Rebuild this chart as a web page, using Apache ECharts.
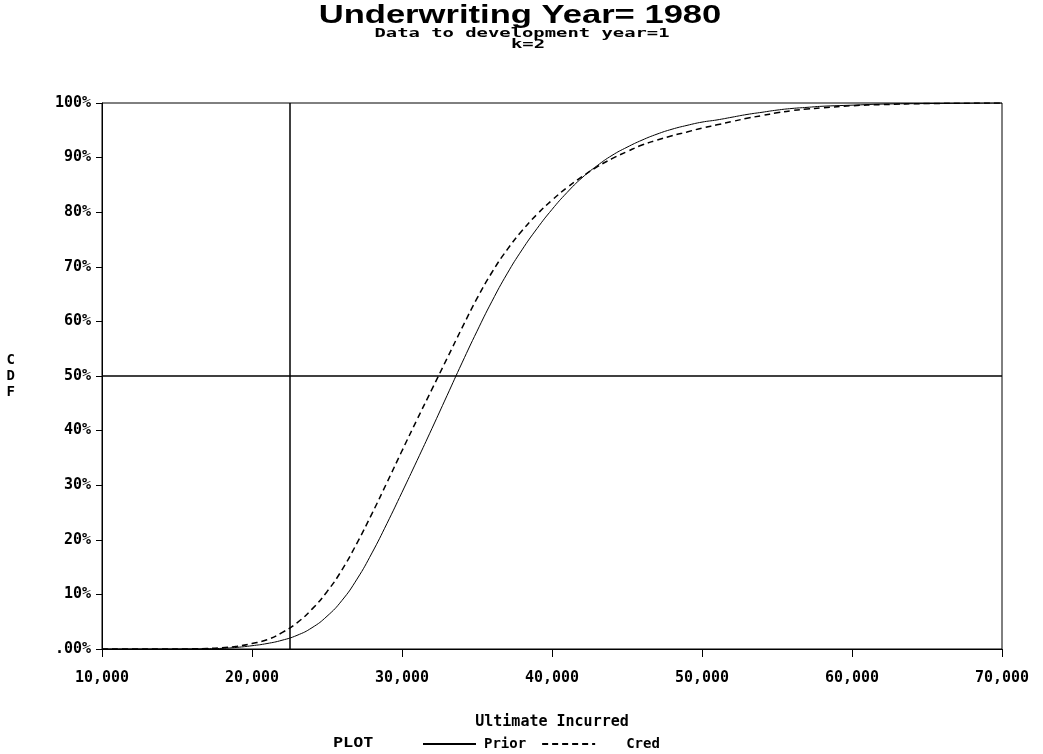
<!DOCTYPE html>
<html><head><meta charset="utf-8">
<script src="https://cdn.jsdelivr.net/npm/echarts@6/dist/echarts.min.js"></script>
<style>html,body{margin:0;padding:0;background:#fff}#c{width:1043px;height:754px}</style>
</head><body><div id="c"></div>
<script>
// Ultimate incurred values (x) at which the CDFs are read
const ultimate = [10000,12000,14000,16000,17000,18000,19000,20000,21000,22000,23000,24000,25000,26000,27000,28000,29000,30000,31000,32000,33000,34000,35000,36000,37000,38000,39000,40000,41000,42000,43000,44000,45000,46000,47000,48000,49000,50000,51000,52000,53000,54000,55000,56000,57000,58000,60000,62000,65000,70000];
// CDF in percent
const prior = [0,0,0,0.02,0.05,0.12,0.3,0.6,1.0,1.6,2.5,3.9,6.0,8.9,12.8,17.6,23.0,28.7,34.5,40.4,46.4,52.4,58.2,63.7,68.7,73.1,77.0,80.5,83.6,86.3,88.5,90.4,91.9,93.2,94.3,95.2,95.9,96.5,96.9,97.4,97.9,98.3,98.7,99.0,99.2,99.4,99.6,99.8,99.9,100];
const cred  = [0,0,0,0.03,0.1,0.25,0.5,1.0,1.7,3.0,4.8,7.3,10.5,14.5,19.4,24.8,30.5,36.3,42.0,47.6,53.2,58.8,64.2,69.0,73.1,76.6,79.6,82.2,84.5,86.5,88.3,89.8,91.1,92.3,93.2,94.0,94.7,95.4,96.0,96.6,97.2,97.7,98.2,98.6,98.9,99.1,99.5,99.7,99.9,100];
const seriesNames = ['Prior','Cred'];
const refUltimate = 22500;   // vertical reference line
const refCdf = 50;           // horizontal reference line
const titleText = 'Underwriting Year= 1980';
const subtitleLines = ['Data to development year=1','k=2'];
const xName = 'Ultimate Incurred';
const yName = 'CDF';
const legendLabel = 'PLOT';

const mono = '"DejaVu Sans Mono", monospace';
const chart = echarts.init(document.getElementById('c'), null, {renderer:'canvas'});
const pairs = (ys) => ultimate.map((x,i)=>[x, ys[i]]);

chart.setOption({
  backgroundColor:'#fff',
  animation:false,
  grid:{left:102, right:41, top:103, bottom:105, show:true, borderColor:'#000', borderWidth:1, containLabel:false},
  graphic:[
    {type:'text', x:520, y:16, scaleX:1.33,
     style:{text:titleText, font:'bold 26px "Liberation Sans", Arial, sans-serif', fill:'#000', textAlign:'center', textVerticalAlign:'middle'}},
    {type:'text', x:522, y:34, scaleX:1.45,
     style:{text:subtitleLines[0], font:'bold 13px '+mono, fill:'#000', textAlign:'center', textVerticalAlign:'middle'}},
    {type:'text', x:528, y:45, scaleX:1.45,
     style:{text:subtitleLines[1], font:'bold 13px '+mono, fill:'#000', textAlign:'center', textVerticalAlign:'middle'}},
    {type:'text', x:333, y:743, scaleX:1.2,
     style:{text:legendLabel, font:'bold 14px '+mono, fill:'#000', textAlign:'left', textVerticalAlign:'middle'}}
  ],
  legend:{
    left:417, top:732, itemWidth:53, itemHeight:14, itemGap:15,
    itemStyle:{opacity:0},
    data:[{name:seriesNames[0], textStyle:{padding:[0,0,0,3]}},{name:seriesNames[1], textStyle:{padding:[0,0,0,26]}}],
    textStyle:{color:'#000', fontFamily:mono, fontWeight:'bold', fontSize:14},
    selectedMode:false
  },
  xAxis:{
    type:'value', min:10000, max:70000, interval:10000,
    name:xName, nameLocation:'middle', nameGap:66,
    nameTextStyle:{color:'#000', fontFamily:mono, fontWeight:'bold', fontSize:15},
    axisLine:{show:true, onZero:false, lineStyle:{color:'#000', width:1}},
    axisTick:{show:true, inside:false, length:8, lineStyle:{color:'#000'}},
    axisLabel:{color:'#000', fontFamily:mono, fontWeight:'bold', fontSize:15, margin:22,
      formatter:(v)=>v.toLocaleString('en-US')},
    splitLine:{show:false}
  },
  yAxis:{
    type:'value', min:0, max:100, interval:10,
    name:yName.split('').join('\n'), nameLocation:'middle', nameGap:87, nameRotate:0,
    nameTextStyle:{color:'#000', fontFamily:mono, fontWeight:'bold', fontSize:14, lineHeight:16},
    axisLine:{show:true, lineStyle:{color:'#000', width:1}},
    axisTick:{show:true, inside:false, length:6, lineStyle:{color:'#000'}},
    axisLabel:{color:'#000', fontFamily:mono, fontWeight:'bold', fontSize:15, margin:11,
      formatter:(v)=> v===0 ? '.00%' : v+'%'},
    splitLine:{show:false}
  },
  series:[
    {name:seriesNames[0], type:'line', data:pairs(prior), showSymbol:false, symbol:'none', smooth:0.5,
     lineStyle:{color:'#000', width:1, type:'solid'}, itemStyle:{color:'#000'},
     markLine:{silent:true, symbol:['none','none'], label:{show:false}, animation:false,
       lineStyle:{color:'#000', width:1.5, type:'solid'},
       data:[{xAxis:refUltimate},{yAxis:refCdf}]}},
    {name:seriesNames[1], type:'line', data:pairs(cred), showSymbol:false, symbol:'none', smooth:0.5,
     lineStyle:{color:'#000', width:1.5, type:[6,4]}, itemStyle:{color:'#000'}}
  ]
});
</script></body></html>
